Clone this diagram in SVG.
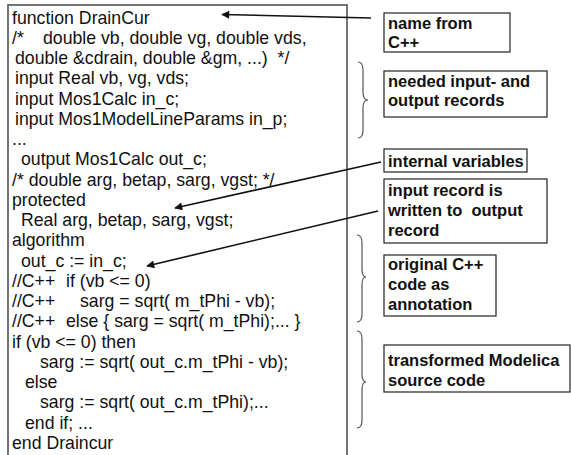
<svg xmlns="http://www.w3.org/2000/svg" width="571" height="455" viewBox="0 0 571 455">
<style>
.code{font-family:"Liberation Sans",Arial,sans-serif;font-size:17.7px;fill:#111;white-space:pre}
.lbl{font-family:"Liberation Sans",Arial,sans-serif;font-size:16.5px;font-weight:bold;fill:#111;white-space:pre}
.box{fill:#fff;stroke:#222;stroke-width:1.2}
.main{fill:#fff;stroke:#666;stroke-width:1.8}
.con{fill:none;stroke:#111;stroke-width:1.6}
.brace{fill:none;stroke:#555;stroke-width:1.2}
</style>
<defs>
<marker id="ah" viewBox="0 0 10 10" refX="9" refY="5" markerWidth="6" markerHeight="5" orient="auto" markerUnits="strokeWidth">
<path d="M0,0 L10,5 L0,10 z" fill="#111"/>
</marker>
</defs>
<rect width="571" height="455" fill="#fff"/>
<g id="code">
<rect class="main" x="8" y="5" width="339" height="460"/>
<text class="code" x="12" y="23.5">function DrainCur</text>
<text class="code" x="12" y="43.8">/*<tspan x="43">double vb, double vg, double vds,</tspan></text>
<text class="code" x="15" y="64">double &amp;cdrain, double &amp;gm, ...)  */</text>
<text class="code" x="15" y="84.3">input Real vb, vg, vds;</text>
<text class="code" x="15" y="104.5">input Mos1Calc in_c;</text>
<text class="code" x="15" y="124.8">input Mos1ModelLineParams in_p;</text>
<text class="code" x="12" y="145">...</text>
<text class="code" x="21" y="165.3">output Mos1Calc out_c;</text>
<text class="code" x="12" y="185.5">/* double arg, betap, sarg, vgst; */</text>
<text class="code" x="12" y="205.8">protected</text>
<text class="code" x="21" y="226">Real arg, betap, sarg, vgst;</text>
<text class="code" x="12" y="246.3">algorithm</text>
<text class="code" x="21" y="266.5">out_c := in_c;</text>
<text class="code" x="12" y="286.8">//C++<tspan x="66">if (vb &lt;= 0)</tspan></text>
<text class="code" x="12" y="307">//C++<tspan x="80">sarg = sqrt( m_tPhi - vb);</tspan></text>
<text class="code" x="12" y="327.3">//C++<tspan x="66">else { sarg = sqrt( m_tPhi);... }</tspan></text>
<text class="code" x="12" y="347.5">if (vb &lt;= 0) then</text>
<text class="code" x="40" y="367.8">sarg := sqrt( out_c.m_tPhi - vb);</text>
<text class="code" x="25" y="388">else</text>
<text class="code" x="40" y="408.3">sarg := sqrt( out_c.m_tPhi);...</text>
<text class="code" x="25" y="428.5">end if; ...</text>
<text class="code" x="12" y="448.8">end Draincur</text>
</g>
<g id="name-from">
<rect class="box" x="384" y="13" width="126" height="39"/>
<text class="lbl" x="388" y="29">name from</text>
<text class="lbl" x="388" y="48">C++</text>
</g>
<g id="needed-records">
<rect class="box" x="384" y="71" width="163" height="46"/>
<text class="lbl" x="388" y="87">needed input- and</text>
<text class="lbl" x="388" y="106">output records</text>
</g>
<g id="internal-variables">
<rect class="box" x="384" y="149" width="143" height="23"/>
<text class="lbl" x="388" y="167">internal variables</text>
</g>
<g id="input-record">
<rect class="box" x="384" y="179" width="163" height="64"/>
<text class="lbl" x="388" y="196">input record is</text>
<text class="lbl" x="388" y="216">written to  output</text>
<text class="lbl" x="388" y="236">record</text>
</g>
<g id="original-cpp">
<rect class="box" x="384" y="255" width="112" height="61"/>
<text class="lbl" x="388" y="270">original C++</text>
<text class="lbl" x="388" y="290">code as</text>
<text class="lbl" x="388" y="310">annotation</text>
</g>
<g id="transformed-modelica">
<rect class="box" x="384" y="345" width="186" height="47"/>
<text class="lbl" x="388" y="366">transformed Modelica</text>
<text class="lbl" x="388" y="386">source code</text>
</g>
<g id="connectors">
<line class="con" x1="371" y1="18" x2="222" y2="14.5" marker-end="url(#ah)"/>
<line class="con" x1="381" y1="162" x2="175" y2="208" marker-end="url(#ah)"/>
<line class="con" x1="378" y1="211" x2="147" y2="266" marker-end="url(#ah)"/>
<path class="brace" d="M358,62 Q363,62 363,70 L363,92 Q363,100 368,100 Q363,100 363,108 L363,130 Q363,138 358,138"/>
<path class="brace" d="M357,235 Q362,235 362,243 L362,269 Q362,277 366,277 Q362,277 362,285 L362,314 Q362,322 357,322"/>
<path class="brace" d="M357,331 Q362,331 362,339 L362,374 Q362,382 366,382 Q362,382 362,390 L362,420 Q362,428 357,428"/>
</g>
</svg>
